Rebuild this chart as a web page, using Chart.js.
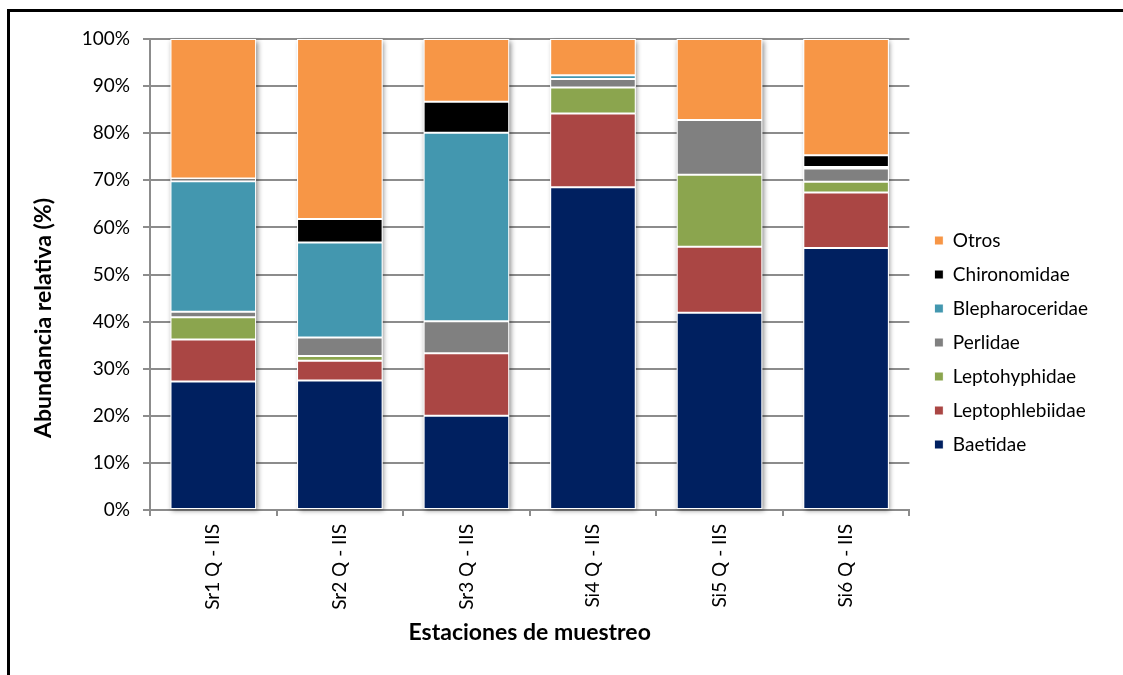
<!DOCTYPE html>
<html>
<head>
<meta charset="utf-8">
<script src="https://cdn.jsdelivr.net/npm/chart.js@4.4.1/dist/chart.umd.min.js"></script>
<style>
  html, body { margin: 0; padding: 0; background: #fff; }
  canvas { display: block; }
</style>
</head>
<body>
<canvas id="c" width="1123" height="675"></canvas>
<script>
const categories = ['Sr1 Q - IIS', 'Sr2 Q - IIS', 'Sr3 Q - IIS', 'Si4 Q - IIS', 'Si5 Q - IIS', 'Si6 Q - IIS'];
const yTickValues = [0, 10, 20, 30, 40, 50, 60, 70, 80, 90, 100];

const baetidae        = [27.3, 27.5, 20.0, 68.5, 41.9, 55.6];
const leptophlebiidae = [ 8.9,  4.2, 13.3, 15.7, 14.0, 11.8];
const leptohyphidae   = [ 4.7,  1.0,  0.0,  5.5, 15.3,  2.3];
const perlidae        = [ 1.2,  3.9,  6.8,  1.8, 11.6,  2.8];
const blepharoceridae = [27.7, 20.2, 40.0,  0.8,  0.0,  0.3];
const chironomidae    = [ 0.6,  5.0,  6.6,  0.0,  0.0,  2.5];
const otros           = [29.6, 38.2, 13.3,  7.7, 17.2, 24.7];

const seriesNames  = ['Baetidae', 'Leptophlebiidae', 'Leptohyphidae', 'Perlidae', 'Blepharoceridae', 'Chironomidae', 'Otros'];
const seriesValues = [baetidae, leptophlebiidae, leptohyphidae, perlidae, blepharoceridae, chironomidae, otros];
const seriesColors = ['#002060', '#AA4644', '#8BA54E', '#808080', '#4397AF', '#000000', '#F79646'];

const yTitle = 'Abundancia relativa (%)';
const xTitle = 'Estaciones de muestreo';

const FONT = 'Lato';
const gridColor = '#8c8c8c';

const framePlugin = {
  id: 'frame',
  beforeDraw(chart) {
    const ctx = chart.ctx;
    ctx.save();
    ctx.fillStyle = '#fff';
    ctx.fillRect(0, 0, chart.width, chart.height);
    ctx.fillStyle = '#000';
    ctx.fillRect(7, 9, chart.width - 7, 3);
    ctx.fillRect(7, 9, 3, chart.height - 9);
    ctx.restore();
  },
  afterDraw(chart) {
    const ctx = chart.ctx;
    ctx.save();
    ctx.translate(44, 318);
    ctx.rotate(-Math.PI / 2);
    ctx.font = 'bold 23px ' + FONT;
    ctx.fillStyle = '#000';
    ctx.textAlign = 'center';
    ctx.textBaseline = 'middle';
    ctx.fillText(yTitle, 0, 0);
    ctx.restore();
  }
};

const shadowPlugin = {
  id: 'barShadow',
  beforeDatasetsDraw(chart) {
    const ctx = chart.ctx;
    const first = chart.getDatasetMeta(0);
    const last = chart.getDatasetMeta(chart.data.datasets.length - 1);
    ctx.save();
    ctx.fillStyle = '#fff';
    ctx.shadowColor = 'rgba(0,0,0,0.45)';
    ctx.shadowBlur = 5;
    ctx.shadowOffsetX = 1.5;
    ctx.shadowOffsetY = 1.5;
    first.data.forEach((el, i) => {
      const topEl = last.data[i];
      const left = el.x - el.width / 2;
      const top = topEl.y;
      const bottom = el.base;
      ctx.fillRect(left, top, el.width, bottom - top);
    });
    ctx.restore();
  }
};

new Chart(document.getElementById('c'), {
  type: 'bar',
  data: {
    labels: categories,
    datasets: seriesNames.map((name, k) => ({
      label: name,
      data: seriesValues[k],
      backgroundColor: seriesColors[k],
      borderColor: '#ffffff',
      borderWidth: 1,
      borderSkipped: false,
      categoryPercentage: 1.0,
      barPercentage: 0.676
    }))
  },
  options: {
    responsive: false,
    animation: false,
    layout: { padding: { left: 10, top: 39, right: 25, bottom: 29 } },
    plugins: {
      legend: {
        position: 'right',
        reverse: true,
        labels: {
          boxWidth: 9,
          boxHeight: 9,
          padding: 15,
          color: '#000',
          font: { family: FONT, size: 19 }
        }
      },
      tooltip: { enabled: false }
    },
    scales: {
      x: {
        stacked: true,
        grid: {
          display: true,
          drawOnChartArea: false,
          drawTicks: true,
          tickLength: 6,
          color: gridColor,
          lineWidth: 2
        },
        border: { display: true, color: gridColor, width: 2 },
        ticks: {
          color: '#000',
          font: { family: FONT, size: 19 },
          minRotation: 90,
          maxRotation: 90,
          padding: 8,
          autoSkip: false
        },
        title: {
          display: true,
          text: xTitle,
          color: '#000',
          font: { family: FONT, size: 23, weight: 'bold' },
          padding: { top: 0, bottom: 0 }
        },
        afterFit(scale) { scale.height = 136; }
      },
      y: {
        stacked: true,
        min: 0,
        max: 100,
        grid: {
          color: gridColor,
          lineWidth: 2,
          tickLength: 7
        },
        border: { display: true, color: gridColor, width: 2 },
        ticks: {
          stepSize: 10,
          color: '#000',
          font: { family: FONT, size: 19 },
          padding: 13,
          callback: (v) => yTickValues.includes(v) ? v + '%' : ''
        },
        afterFit(scale) { scale.width = 140; }
      },
      y2: {
        position: 'right',
        display: true,
        grid: { display: false, drawTicks: false },
        border: { display: false },
        ticks: { display: false },
        afterFit(scale) { scale.width = 10; }
      }
    }
  },
  plugins: [framePlugin, shadowPlugin]
});
</script>
</body>
</html>
